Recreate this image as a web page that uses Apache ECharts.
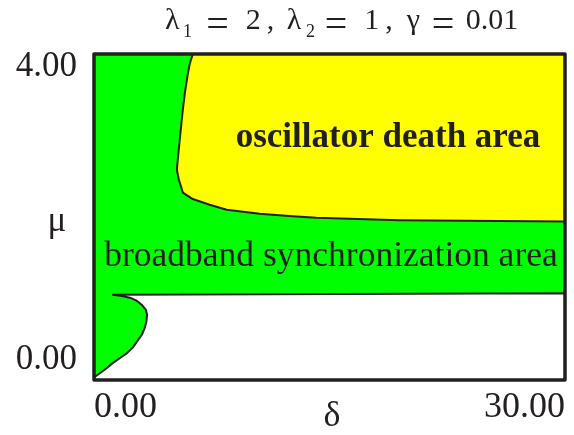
<!DOCTYPE html>
<html><head><meta charset="utf-8">
<script src="https://cdn.jsdelivr.net/npm/echarts@6/dist/echarts.min.js"></script>
<style>html,body{margin:0;padding:0;background:#fff}#c{width:574px;height:435px}</style>
</head><body><div id="c"></div>
<script>
// axis ranges and tick labels
const deltaRange = [0, 30];
const muRange = [0, 4];
const xTickLabels = ['0.00', '30.00'];
const yTickLabels = ['0.00', '4.00'];
const xName = 'δ';
const yName = 'μ';
// title pieces: [kind, text]  (kind s = subscript, e = relation sign, t = normal)
const titlePieces = [['t','λ'],['s','1'],['e','='],['t','2\u2009,'],['t','λ'],['s','2'],['e','='],['t','1\u2009,'],['t','γ'],['e','='],['t','0.01']];
const regionLabels = ['oscillator death area', 'broadband synchronization area'];

// boundary of the oscillator death area (yellow), from top edge down and to the right edge
const deathDelta = [6.29, 6.10, 5.97, 5.78, 5.66, 5.53, 5.40, 5.34, 5.28, 5.40, 5.66, 6.29, 7.37, 8.45, 10.55, 12.65, 14.17, 19.45, 25.8, 30.0];
const deathMu    = [4.00, 3.88, 3.75, 3.51, 3.32, 3.08, 2.83, 2.71, 2.58, 2.46, 2.30, 2.22, 2.15, 2.09, 2.04, 2.01, 1.99, 1.96, 1.95, 1.945];

// lower boundary of the synchronization area (white region below)
const lowDelta = [30.0, 1.21, 1.78, 2.29, 2.74, 3.06, 3.31, 3.38, 3.34, 3.25, 3.06, 2.80, 2.48, 2.10, 1.66, 1.21, 0.64, 0.06, 0.0];
const lowMu    = [1.065, 1.045, 1.03, 1.01, 0.97, 0.92, 0.86, 0.80, 0.72, 0.65, 0.56, 0.49, 0.40, 0.33, 0.27, 0.21, 0.12, 0.04, 0.0];

const GREEN = '#00ff00', YELLOW = '#ffff00', INK = '#231f20';
const FONT = '"Liberation Serif", "Times New Roman", serif';

function polySeries(name, xs, ys, fill, stroke, lw) {
  return {
    type: 'custom', name: name, data: [[xs[0], ys[0]]],
    encode: {x: 0, y: 1}, silent: true,
    renderItem: function (params, api) {
      const pts = xs.map((x, i) => api.coord([x, ys[i]]));
      return {type: 'polygon', shape: {points: pts},
        style: {fill: fill, stroke: stroke, lineWidth: lw, lineJoin: 'round'}};
    }
  };
}

// title rich text (box widths give the math-like spacing)
const titleWidths = [18, 17, 35, 50, 18, 15, 36, 49, 21, 38, 60];
const titleRich = {};
let titleText = '';
titlePieces.forEach((p, i) => {
  const k = 'k' + i;
  titleText += '{' + k + '|' + p[1] + '}';
  if (p[0] === 's') {
    titleRich[k] = {fontFamily: FONT, fontSize: 18, fill: INK, lineHeight: 18, verticalAlign: 'top', padding: [17, 0, 0, 0], width: titleWidths[i], align: 'left'};
  } else if (p[0] === 'e') {
    titleRich[k] = {fontFamily: FONT, fontSize: 40, fill: INK, lineHeight: 34, verticalAlign: 'top', width: titleWidths[i], align: 'center'};
  } else {
    titleRich[k] = {fontFamily: FONT, fontSize: 30, fill: INK, lineHeight: 34, verticalAlign: 'top', width: titleWidths[i], align: 'left'};
  }
});

const chart = echarts.init(document.getElementById('c'), null, {renderer: 'canvas'});
const fullX = [deltaRange[0], deltaRange[1], deltaRange[1], deltaRange[0]];
const fullY = [muRange[0], muRange[0], muRange[1], muRange[1]];
const yellowX = deathDelta.concat([deltaRange[1]]);
const yellowY = deathMu.concat([muRange[1]]);
const whiteX = lowDelta.concat([deltaRange[1]]);
const whiteY = lowMu.concat([muRange[0]]);

chart.setOption({
  animation: false,
  backgroundColor: '#ffffff',
  grid: {left: 94, right: 9, top: 54, bottom: 55, containLabel: false, outerBoundsMode: 'none'},
  xAxis: {
    type: 'value', min: deltaRange[0], max: deltaRange[1], interval: deltaRange[1] - deltaRange[0],
    axisLine: {show: false}, axisTick: {show: false}, splitLine: {show: false},
    axisLabel: {
      margin: 10, color: INK, fontFamily: FONT, fontSize: 36,
      alignMinLabel: 'left', alignMaxLabel: 'right',
      formatter: v => v === deltaRange[0] ? xTickLabels[0] : xTickLabels[1]
    }
  },
  yAxis: {
    type: 'value', min: muRange[0], max: muRange[1], interval: muRange[1] - muRange[0],
    axisLine: {show: false}, axisTick: {show: false}, splitLine: {show: false},
    axisLabel: {
      margin: 17, color: INK, fontFamily: FONT, fontSize: 35,
      verticalAlignMinLabel: 'bottom', verticalAlignMaxLabel: 'top',
      formatter: v => v === muRange[0] ? '{lo|' + yTickLabels[0] + '}' : '{hi|' + yTickLabels[1] + '}',
      rich: {
        lo: {fontFamily: FONT, fontSize: 35, color: INK, lineHeight: 35, padding: [0, 0, 5, 0]},
        hi: {fontFamily: FONT, fontSize: 35, color: INK, lineHeight: 26}
      }
    }
  },
  series: [
    polySeries('sync', fullX, fullY, GREEN, 'none', 0),
    polySeries('death', yellowX, yellowY, YELLOW, INK, 2),
    polySeries('none', whiteX, whiteY, '#ffffff', INK, 2),
    polySeries('frame', fullX, fullY, 'none', INK, 3.5)
  ],
  graphic: [
    {type: 'text', x: 165, y: 6, z: 100, style: {text: titleText, align: 'left', verticalAlign: 'top', rich: titleRich}},
    {type: 'text', x: 57, y: 222, z: 100, style: {text: yName, fontFamily: FONT, fontSize: 35, fill: INK, align: 'center', verticalAlign: 'middle'}},
    {type: 'text', x: 332, y: 417, z: 100, style: {text: xName, fontFamily: FONT, fontSize: 36, fill: INK, align: 'center', verticalAlign: 'middle'}},
    {type: 'text', x: 388, y: 138, z: 100, style: {text: regionLabels[0], fontFamily: FONT, fontWeight: 'bold', fontSize: 35, fill: INK, align: 'center', verticalAlign: 'middle'}},
    {type: 'text', x: 331, y: 257, z: 100, style: {text: regionLabels[1], fontFamily: FONT, fontSize: 35.5, fill: INK, align: 'center', verticalAlign: 'middle'}}
  ]
});
</script></body></html>
